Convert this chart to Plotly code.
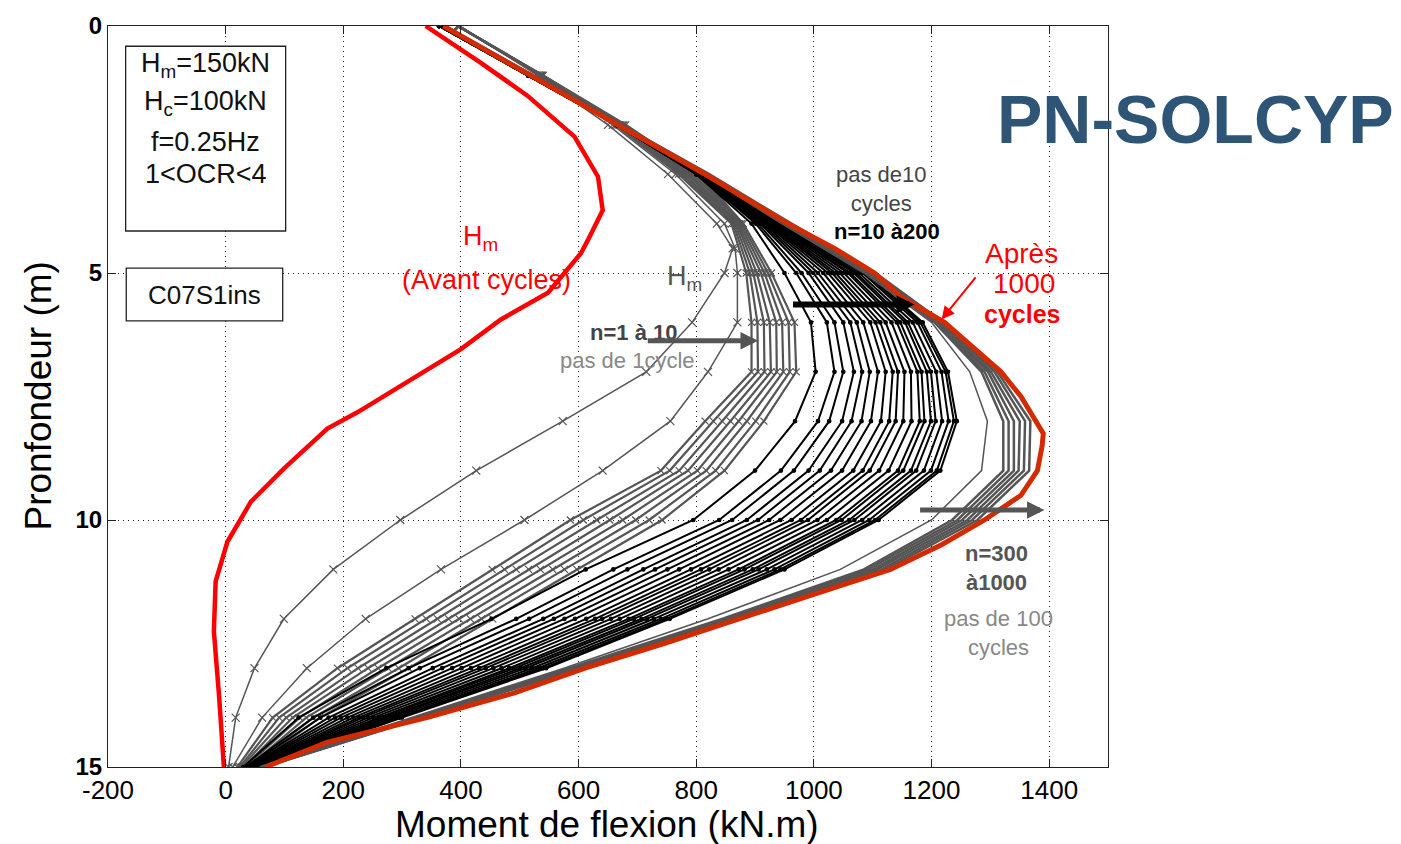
import plotly.graph_objects as go

# ---------------- data ----------------
depth = [0, 1, 2, 3, 4, 5, 6, 7, 8, 9, 10, 11, 12, 13, 14, 15]
depth_g12 = [0, 1, 2, 3, 4, 4.5, 5, 6, 7, 8, 9, 10, 11, 12, 13, 14, 15]
depth_initial = [0, 0.73, 1.41, 2.24, 3.05, 3.73, 4.33, 4.6, 5.4, 5.94, 6.54, 7.28,
                 7.82, 8.15, 8.96, 9.63, 10.44, 11.24, 12.25, 13.59, 15]
depth_1000 = [0, 1, 2, 3, 4, 4.5, 5, 5.5, 6, 6.5, 7, 7.5, 8, 8.25, 8.5, 9, 9.5,
              10, 10.5, 11, 11.5, 12, 12.5, 13, 13.5, 14, 14.5, 15]

# Hm before cycles (red)
m_initial = [340, 432, 513, 593, 633, 641, 616, 604, 548, 468, 400, 298,
             224, 173, 99, 43, 3, -17, -20, -11, -3]
# after 1000 cycles (orange-red)
m_n1000 = [370, 517, 667, 815, 956, 1035, 1103, 1150, 1222, 1270, 1318, 1352, 1378,
           1390, 1388, 1380, 1352, 1290, 1217, 1130, 1001, 875, 745, 611, 491, 342, 172, 68]

# n = 1 .. 10 (grey, step 1 cycle)
m_g1 = [398, 530, 650, 752, 835, 862, 848, 793, 715, 573, 426, 297, 183, 99, 49, 17, 5]
m_g2 = [398, 533, 658, 765, 848, 866, 870, 870, 820, 756, 641, 508, 366, 238, 138, 62, 12]
m_g3 = [395, 535, 662, 770, 860, 885, 894, 894, 815, 740, 586, 453, 322, 190, 80, 20]
m_g4 = [395, 536, 665, 775, 863, 891, 904, 905, 829, 755, 608, 474, 341, 207, 91, 24]
m_g5 = [395, 536, 667, 780, 866, 897, 915, 916, 844, 771, 631, 494, 360, 225, 103, 27]
m_g6 = [395, 537, 670, 785, 869, 903, 925, 927, 858, 786, 653, 515, 379, 242, 114, 31]
m_g7 = [395, 538, 672, 790, 871, 910, 936, 937, 872, 802, 675, 535, 397, 259, 126, 34]
m_g8 = [395, 539, 675, 795, 874, 916, 946, 948, 886, 817, 697, 556, 416, 276, 137, 38]
m_g9 = [395, 539, 677, 800, 877, 922, 957, 959, 901, 833, 720, 576, 435, 294, 149, 41]
m_g10 = [395, 540, 680, 805, 880, 928, 967, 970, 915, 848, 742, 597, 454, 311, 160, 45]

# n = 10 .. 200 (black, step 10 cycles)
m_n10 = [363, 515, 665, 800, 894, 950, 995, 1003, 968, 900, 795, 612, 452, 273, 124, 30]
m_n20 = [363, 515, 665, 801, 901, 970, 1022, 1035, 1007, 944, 839, 659, 494, 311, 149, 34]
m_n30 = [363, 515, 665, 801, 905, 979, 1035, 1050, 1026, 966, 861, 683, 516, 330, 161, 36]
m_n40 = [363, 515, 665, 801, 909, 991, 1050, 1068, 1048, 991, 886, 710, 540, 352, 175, 39]
m_n50 = [363, 515, 665, 802, 912, 999, 1062, 1082, 1064, 1010, 905, 730, 558, 368, 186, 40]
m_n60 = [363, 515, 665, 802, 915, 1007, 1073, 1095, 1081, 1029, 924, 751, 576, 385, 196, 42]
m_n70 = [363, 515, 665, 802, 918, 1016, 1084, 1109, 1097, 1048, 943, 771, 594, 401, 207, 44]
m_n80 = [363, 515, 665, 803, 921, 1024, 1096, 1122, 1114, 1067, 962, 791, 613, 417, 217, 46]
m_n90 = [363, 515, 665, 803, 924, 1031, 1105, 1134, 1128, 1083, 978, 808, 628, 431, 226, 47]
m_n100 = [363, 515, 665, 803, 926, 1037, 1113, 1143, 1139, 1095, 990, 822, 640, 442, 233, 49]
m_n110 = [363, 515, 665, 803, 928, 1044, 1122, 1154, 1152, 1111, 1006, 838, 655, 455, 242, 50]
m_n120 = [363, 515, 665, 804, 931, 1051, 1132, 1165, 1166, 1127, 1022, 855, 670, 469, 251, 52]
m_n130 = [363, 515, 665, 804, 933, 1058, 1141, 1176, 1180, 1143, 1038, 872, 685, 482, 260, 53]
m_n140 = [363, 515, 665, 804, 935, 1062, 1147, 1183, 1188, 1152, 1047, 882, 694, 491, 265, 54]
m_n150 = [363, 515, 665, 804, 937, 1068, 1155, 1192, 1199, 1165, 1060, 896, 707, 501, 272, 55]
m_n160 = [363, 515, 665, 804, 938, 1072, 1160, 1199, 1207, 1174, 1069, 906, 716, 510, 277, 56]
m_n170 = [363, 515, 665, 805, 940, 1077, 1168, 1208, 1218, 1187, 1082, 920, 728, 521, 284, 57]
m_n180 = [363, 515, 665, 805, 942, 1083, 1176, 1217, 1229, 1199, 1094, 933, 740, 531, 291, 58]
m_n190 = [363, 515, 665, 805, 944, 1087, 1181, 1224, 1238, 1209, 1104, 943, 749, 540, 296, 59]
m_n200 = [363, 515, 665, 805, 945, 1090, 1185, 1228, 1243, 1215, 1110, 950, 755, 545, 300, 60]

# n = 300 .. 900 (grey, step 100 cycles)
m_n300 = [375, 525, 672, 812, 945, 1085, 1200, 1265, 1295, 1285, 1200, 1045, 820, 575, 315, 58]
m_n400 = [372, 520, 670, 812, 950, 1090, 1205, 1285, 1322, 1322, 1235, 1085, 845, 585, 322, 60]
m_n500 = [372, 520, 670, 814, 952, 1093, 1208, 1290, 1331, 1331, 1244, 1092, 850, 589, 325, 61]
m_n600 = [372, 521, 671, 816, 955, 1096, 1211, 1296, 1340, 1340, 1252, 1100, 854, 592, 328, 62]
m_n700 = [372, 521, 671, 818, 957, 1099, 1214, 1301, 1350, 1348, 1261, 1107, 859, 596, 330, 64]
m_n800 = [372, 522, 672, 820, 960, 1102, 1217, 1307, 1359, 1357, 1269, 1115, 863, 599, 333, 65]
m_n900 = [372, 522, 672, 822, 962, 1105, 1220, 1312, 1368, 1366, 1278, 1122, 868, 603, 336, 66]

x_ticks = [-200, 0, 200, 400, 600, 800, 1000, 1200, 1400]
x_tick_labels = ["-200", "0", "200", "400", "600", "800", "1000", "1200", "1400"]
y_ticks = [0, 5, 10, 15]
y_tick_labels = ["0", "5", "10", "15"]

# ---------------- styles ----------------
GREY = "#555555"
ORANGE = "#d42a00"
RED = "#ff0000"
FONT = "Liberation Sans, Arial, sans-serif"

fig = go.Figure()


def add(xs, ys, color, width, symbol=None, msize=0):
    kw = dict(mode="lines")
    if symbol:
        kw = dict(mode="lines+markers",
                  marker=dict(symbol=symbol, size=msize, color=color,
                              line=dict(color=color, width=1.2)))
    fig.add_trace(go.Scatter(x=xs, y=ys, line=dict(color=color, width=width),
                             showlegend=False, hoverinfo="skip", **kw))


for m in [m_g3, m_g4, m_g5, m_g6, m_g7, m_g8, m_g9, m_g10]:
    add(m, depth, GREY, 2.2, "x-thin", 7)
for m in [m_g1, m_g2]:
    add(m, depth_g12, GREY, 1.5, "x-thin", 8)
for m in [m_n10, m_n20, m_n30, m_n40, m_n50, m_n60, m_n70, m_n80, m_n90, m_n100,
          m_n110, m_n120, m_n130, m_n140, m_n150, m_n160, m_n170, m_n180, m_n190, m_n200]:
    add(m, depth, "#000000", 2, "circle", 3.5)
add(m_n300, depth, GREY, 1.5)
for m in [m_n400, m_n500, m_n600, m_n700, m_n800, m_n900]:
    add(m, depth, GREY, 2.5)
add(m_n1000, depth_1000, ORANGE, 5)
add(m_initial, depth_initial, RED, 4.5)

# ---------------- boxes ----------------
fig.add_shape(type="rect", xref="x", yref="y", x0=-170, x1=102, y0=0.41, y1=4.15,
              line=dict(color="#222", width=1.3), fillcolor="white")
fig.add_shape(type="rect", xref="x", yref="y", x0=-169, x1=97, y0=4.9, y1=5.97,
              line=dict(color="#222", width=1.3), fillcolor="white")

ann = []


def txt(x, y, s, size, color="#111", bold=False, xref="x", yref="y", **kw):
    ann.append(dict(x=x, y=y, xref=xref, yref=yref, text=s, showarrow=False,
                    font=dict(family=FONT, size=size, color=color,
                              weight="bold" if bold else "normal"),
                    xanchor="center", yanchor="middle", **kw))


txt(-34, 0.78, "H<sub>m</sub>=150kN", 27)
txt(-34, 1.55, "H<sub>c</sub>=100kN", 27)
txt(-34, 2.34, "f=0.25Hz", 27)
txt(-34, 2.99, "1&lt;OCR&lt;4", 27)
txt(-36, 5.44, "C07S1ins", 26)

txt(434, 4.3, "H<sub>m</sub>", 27, RED)
txt(444, 5.14, "(Avant cycles)", 27, RED)
txt(780, 5.1, "H<sub>m</sub>", 27, GREY)
txt(693, 6.21, "n=1 à 10", 22, "#444", True)
txt(683, 6.77, "pas de 1cycle", 22, "#888")
txt(1115, 3.29, "pas de10<br>cycles", 22, "#444")
txt(1125, 4.15, "n=10 à200", 22, "#000", True)
txt(1353, 4.6, "Après", 28, RED)
txt(1357, 5.22, "1000", 28, RED)
txt(1353, 5.83, "cycles", 25, RED, True)
txt(1311, 10.97, "n=300<br>à1000", 22, "#555", True)
txt(1314, 12.28, "pas de 100<br>cycles", 22, "#888")

# axis titles and logo (paper coordinates)
txt(0.499, -0.078, "Moment de flexion (kN.m)", 37, "#000", xref="paper", yref="paper")
txt(-0.07, 0.5, "Pronfondeur (m)", 37, "#000", xref="paper", yref="paper", textangle=-90)
txt(1.087, 0.875, "PN-SOLCYP", 68, "#2e5576", True, xref="paper", yref="paper")


def arrow(x, y, ax, ay, color, width, size):
    ann.append(dict(x=x, y=y, ax=ax, ay=ay, xref="x", yref="y", axref="x", ayref="y",
                    text="", showarrow=True, arrowhead=2, arrowsize=size,
                    arrowwidth=width, arrowcolor=color))


arrow(905, 6.37, 715, 6.37, GREY, 5, 0.7)
arrow(1171, 5.64, 962, 5.64, "#000", 6, 0.6)
arrow(1392, 9.8, 1178, 9.8, GREY, 5, 0.7)
arrow(1217, 5.94, 1277, 5.06, RED, 2, 1.3)

axis_common = dict(showline=True, linecolor="#222", linewidth=1, mirror="allticks",
                   ticks="inside", ticklen=8, tickcolor="#222", showgrid=True,
                   gridcolor="#222", griddash="1px,4px", gridwidth=1.2, zeroline=False)

fig.update_layout(
    width=1401, height=844, autosize=False,
    margin=dict(l=108, r=293, t=22, b=77),
    paper_bgcolor="white", plot_bgcolor="white",
    xaxis=dict(range=[-200, 1500], tickvals=x_ticks, ticktext=x_tick_labels,
               tickfont=dict(family=FONT, size=26, color="#000"), **axis_common),
    yaxis=dict(range=[15, 0], tickvals=y_ticks, ticktext=y_tick_labels,
               tickfont=dict(family=FONT, size=24, color="#000", weight="bold"),
               **axis_common),
    annotations=ann,
)

fig.write_html("out.html")
